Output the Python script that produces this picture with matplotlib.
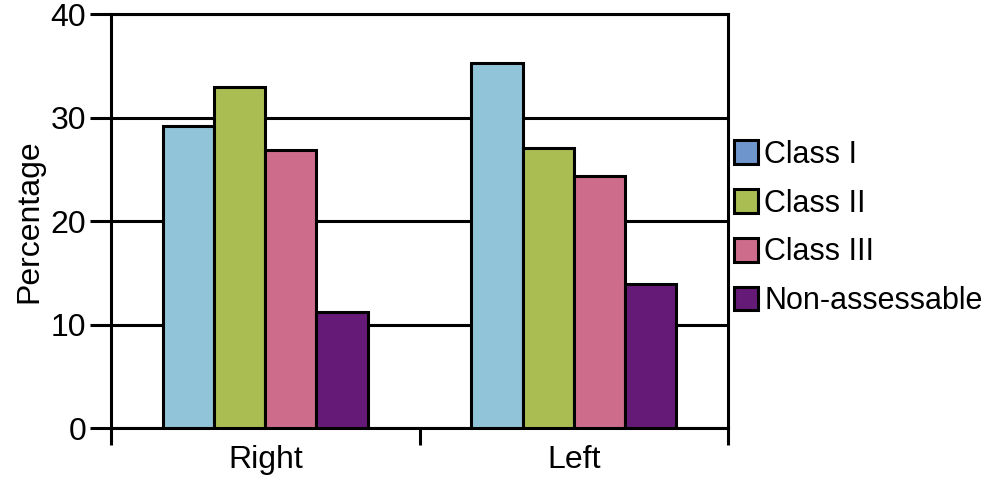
import matplotlib.pyplot as plt
from matplotlib.patches import Patch
import numpy as np

plt.rcParams['font.family'] = ['Liberation Sans', 'DejaVu Sans']

sides = ['Right', 'Left']
classes = ['Class I', 'Class II', 'Class III', 'Non-assessable']
class1 = [29.2, 35.3]
class2 = [32.9, 27.1]
class3 = [26.9, 24.3]
non_assess = [11.2, 13.9]

bar_colors = ['#92c4d9', '#a9bd53', '#cd6d8b', '#661a78']
legend_colors = ['#6f96cc', '#a9bd53', '#cd6d8b', '#661a78']

fig = plt.figure(figsize=(9.94, 4.78), dpi=100)
ax = fig.add_axes([0.1117, 0.1046, 0.6207, 0.8661])

x = np.arange(len(sides))
w = 0.166
series = [class1, class2, class3, non_assess]
for i, vals in enumerate(series):
    ax.bar(x + (i - 1.5) * w, vals, w, color=bar_colors[i],
           edgecolor='black', linewidth=2.2, zorder=3)

ax.set_xlim(-0.5, 1.5)
ax.set_ylim(0, 40)
ax.set_yticks([0, 10, 20, 30, 40])
ax.set_xticks(x)
ax.set_xticklabels(sides)
ax.set_xticks([-0.5, 0.5, 1.5], minor=True)
ax.tick_params(axis='x', which='major', length=0, labelsize=23, pad=12)
ax.tick_params(axis='x', which='minor', length=12, width=2.2)
ax.tick_params(axis='y', length=15, width=2.2, labelsize=23, pad=3)
ax.yaxis.grid(True, color='black', linewidth=2.2)
ax.set_axisbelow(True)
for s in ax.spines.values():
    s.set_linewidth(2.2)
ax.set_ylabel('Percentage', fontsize=23, labelpad=4)

handles = [Patch(facecolor=c, edgecolor='black', linewidth=2.2) for c in legend_colors]
fig.legend(handles, classes, loc='center left', bbox_to_anchor=(0.738, 0.523),
           frameon=False, fontsize=22, handlelength=0.8, handleheight=0.8,
           handletextpad=0.2, labelspacing=0.62, borderaxespad=0, borderpad=0)

fig.savefig('out.png', dpi=100)
